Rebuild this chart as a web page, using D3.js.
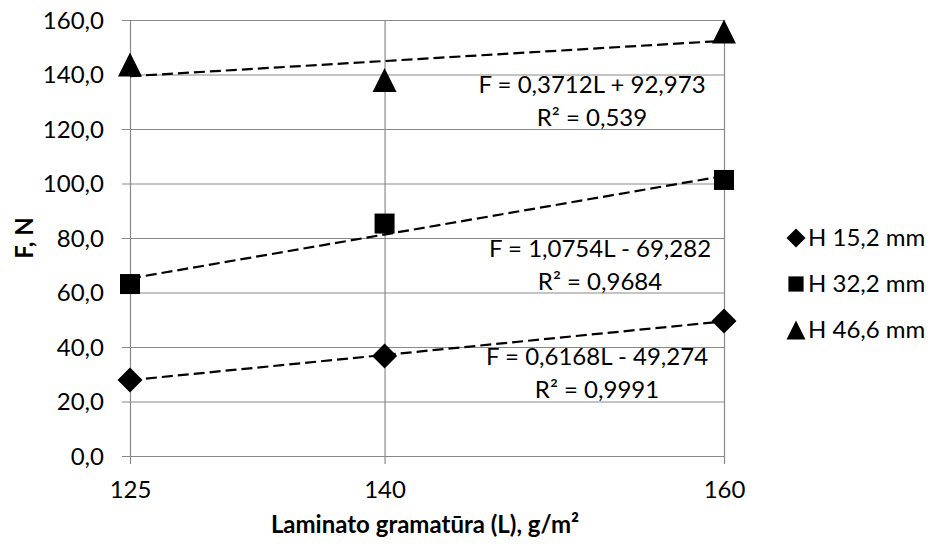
<!DOCTYPE html>
<html>
<head>
<meta charset="utf-8">
<script src="https://cdn.jsdelivr.net/npm/d3@7"></script>
<style>
  body { margin: 0; background: #fff; }
  text { font-family: Lato, "Open Sans", sans-serif; fill: #000; }
</style>
</head>
<body>
<svg id="chart"></svg>
<script>
//chart data
const grammage = [125, 140, 160];
const seriesNames = ["H 15,2 mm", "H 32,2 mm", "H 46,6 mm"];
const seriesShapes = ["diamond", "square", "triangle"];
const h15 = [27.9, 36.7, 49.5];
const h32 = [63.1, 85.3, 101.3];
const h46 = [143.7, 138.0, 155.8];
const slopes = [0.6168, 1.0754, 0.3712];
const intercepts = [-49.274, -69.282, 92.973];
const eqLabels = ["F = 0,6168L - 49,274", "F = 1,0754L - 69,282", "F = 0,3712L + 92,973"];
const r2Labels = ["R² = 0,9991", "R² = 0,9684", "R² = 0,539"];
const yTicks = [0, 20, 40, 60, 80, 100, 120, 140, 160];

const seriesValues = [h15, h32, h46];

//set up SVG dimensions
const w = 930, h = 546;
const margin = {left: 130, top: 20, right: 206, bottom: 90};

const svg = d3.select("#chart")
    .attr("width", w)
    .attr("height", h);

//scales
const x = d3.scaleLinear().domain([125, 160]).range([margin.left, w - margin.right]);
const y = d3.scaleLinear().domain([0, 160]).range([h - margin.bottom, margin.top]);

const gridColor = "#898989";

//horizontal gridlines + y axis
const yAxis = d3.axisLeft(y)
    .tickValues(yTicks)
    .tickSize(-(x(160) - x(125)))
    .tickFormat(d => d3.format(".1f")(d).replace(".", ","));

svg.append("g")
    .attr("transform", `translate(${x(125)},0)`)
    .call(yAxis)
    .call(g => g.select(".domain").remove())
    .call(g => g.selectAll(".tick line").attr("stroke", gridColor).attr("stroke-width", 1.2).attr("x1", -8))
    .call(g => g.selectAll(".tick text")
        .attr("x", -26)
        .attr("dy", "0.35em")
        .style("font-size", "24px"));

//vertical gridlines + x axis
const xAxis = d3.axisBottom(x)
    .tickValues(grammage)
    .tickSize(-(y(0) - y(160)))
    .tickFormat(d3.format("d"));

svg.append("g")
    .attr("transform", `translate(0,${y(0)})`)
    .call(xAxis)
    .call(g => g.select(".domain").remove())
    .call(g => g.selectAll(".tick line").attr("stroke", gridColor).attr("stroke-width", 1.2).attr("y1", 8))
    .call(g => g.selectAll(".tick text")
        .attr("y", 25)
        .attr("dy", "0.71em")
        .style("font-size", "24px"));

//marker shapes
function markerPath(type, s) {
    if (type === "diamond") return `M0,${-s}L${s},0L0,${s}L${-s},0Z`;
    if (type === "square") return `M${-s * 0.8},${-s * 0.8}H${s * 0.8}V${s * 0.8}H${-s * 0.8}Z`;
    return `M0,${-s}L${s},${s}L${-s},${s}Z`;
}

//trendlines
const line = d3.line().x(d => x(d[0])).y(d => y(d[1]));
slopes.forEach((m, i) => {
    const pts = [125, 160].map(L => [L, m * L + intercepts[i]]);
    svg.append("path")
        .attr("d", line(pts))
        .attr("fill", "none")
        .attr("stroke", "#000")
        .attr("stroke-width", 2.2)
        .attr("stroke-dasharray", "11,5");
});

//data markers
const markerSize = {diamond: 12.5, square: 12.5, triangle: 12};
seriesValues.forEach((vals, i) => {
    svg.append("g")
        .selectAll("path")
        .data(vals)
        .join("path")
        .attr("transform", (d, j) => `translate(${x(grammage[j])},${y(d)})`)
        .attr("d", markerPath(seriesShapes[i], markerSize[seriesShapes[i]]))
        .attr("fill", "#000");
});

//trendline equations
const eqPos = [[597, 365], [600, 257], [592, 93]];
eqLabels.forEach((t, i) => {
    svg.append("text")
        .attr("x", eqPos[i][0]).attr("y", eqPos[i][1])
        .attr("text-anchor", "middle")
        .style("font-size", "24px")
        .text(t);
    svg.append("text")
        .attr("x", eqPos[i][0]).attr("y", eqPos[i][1] + 33)
        .attr("text-anchor", "middle")
        .style("font-size", "24px")
        .text(r2Labels[i]);
});

//axis titles
svg.append("text")
    .attr("x", 425).attr("y", 533)
    .attr("text-anchor", "middle")
    .style("font-size", "24px")
    .style("font-weight", "bold")
    .text("Laminato gramatūra (L), g/m²");

svg.append("text")
    .attr("transform", `translate(33,${(y(0) + y(160)) / 2}) rotate(-90)`)
    .attr("text-anchor", "middle")
    .style("font-size", "24px")
    .style("font-weight", "bold")
    .text("F, N");

//legend
const legend = svg.append("g").attr("transform", "translate(796,238)");
seriesNames.forEach((name, i) => {
    const row = legend.append("g").attr("transform", `translate(0,${i * 46})`);
    row.append("path")
        .attr("d", markerPath(seriesShapes[i], 9.5))
        .attr("fill", "#000");
    row.append("text")
        .attr("x", 12).attr("y", 0)
        .attr("dy", "0.35em")
        .style("font-size", "24px")
        .text(name);
});
</script>
</body>
</html>
